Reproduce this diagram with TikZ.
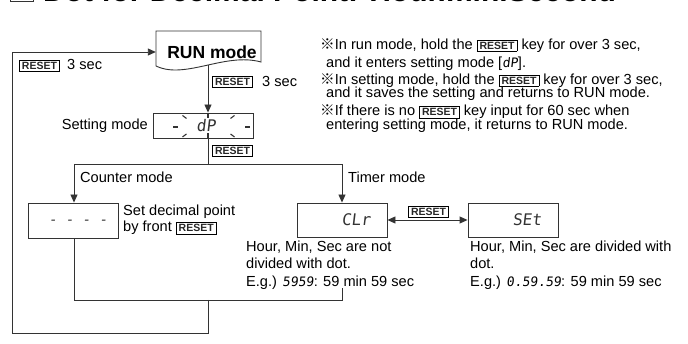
\documentclass[tikz,border=0pt]{standalone}
\usepackage{fontspec}
\setmainfont{Liberation Sans}
\newfontfamily\cjk{Noto Sans CJK JP}
\newfontfamily\seg{DejaVu Sans Mono}[FakeSlant=0.12]
\usetikzlibrary{arrows.meta}
\newcommand\rkey{{\setlength{\fboxsep}{1.6pt}\setlength{\fboxrule}{0.6pt}\fbox{\hspace{0.6pt}\fontsize{10.5}{11}\selectfont\bfseries\color{black!85}RESET\hspace{0.6pt}}}}
\newcommand\refmark{{\cjk ※}}
\newcommand\sg[1]{{\seg\fontsize{13}{14}\selectfont #1}}
\tikzset{
  ln/.style={draw=black!80, line width=0.9pt},
  arr/.style={ln, -{Triangle[length=8pt,width=7pt]}},
  dbl/.style={ln, {Triangle[length=8pt,width=7pt]}-{Triangle[length=8pt,width=7pt]}},
  box/.style={draw=black!80, line width=0.9pt, minimum width=90pt, minimum height=34pt, inner sep=0pt},
  txt/.style={font=\fontsize{14.6}{16}\selectfont, inner sep=0pt, anchor=base west},
  disp/.style={font=\seg\fontsize{16}{16}\selectfont, text=black!80, inner sep=0pt},
  keyn/.style={inner sep=0pt},
  blink/.style={draw=black!80, line width=1.1pt},
}
\begin{document}
\begin{tikzpicture}[x=1pt,y=-1pt]
\useasboundingbox (0,0) rectangle (688,344);
% title (mostly cut off at the top)
\node[draw=black!80, line width=0.9pt, minimum width=23pt, minimum height=23pt, inner sep=0pt, anchor=south west] (tbox) at (10,2) {};
\node[font=\bfseries\fontsize{30}{32}\selectfont, inner sep=0pt, anchor=base west] (title) at (43,2) {Dot for Decimal Point: Hour.min.Second};
% RUN mode
\node[minimum width=105pt, minimum height=36pt, inner sep=0pt] (run) at (208.5,49) {};
\draw[ln] (156,31) -- (261,31) -- (261,62) .. controls (225,52) and (185,80) .. (156,66) -- cycle;
\node[font=\bfseries\fontsize{17.5}{18}\selectfont, inner sep=0pt, anchor=base] (runt) at (212,58.3) {RUN mode};
\coordinate (rb) at (208,65.5);
% setting box
\node[box, minimum width=100pt, minimum height=25pt] (set) at (203,125.5) {};
\node[txt, anchor=base east] (setl) at (148,130) {Setting mode};
\node[disp, anchor=base] (dp) at (206,131.5) {dP};
\draw[blink] (173,127) -- (178,127);
\draw[blink] (245,127) -- (250,127);
\draw[blink] (208,113) -- (208,118.5);
\draw[blink] (208,133.5) -- (208,138);
\draw[blink] (182.5,115.5) -- (186.5,118.5);
\draw[blink] (230.5,118.5) -- (234.5,115.5);
\draw[blink] (182.5,137) -- (186.5,134);
\draw[blink] (230.5,134) -- (234.5,137);
% keys near RUN
\node[keyn] (k0) at (39.5,66) {\rkey};
\node[txt] (s0) at (67,69.3) {3 sec};
\node[keyn] (k1) at (232.5,82) {\rkey};
\node[txt] (s1) at (262,86.7) {3 sec};
\node[keyn] (k2) at (232.5,150.5) {\rkey};
% notes
\node[txt] (n1) at (320,49.5) {\refmark In run mode, hold the \rkey\ key for over 3 sec,};
\node[txt] (n2) at (326,67.7) {and it enters setting mode [\sg{dP}].};
\node[txt] (n3) at (320,84.5) {\refmark In setting mode, hold the \rkey\ key for over 3 sec,};
\node[txt] (n4) at (326,97.7) {and it saves the setting and returns to RUN mode.};
\node[txt] (n5) at (320,116) {\refmark If there is no \rkey\ key input for 60 sec when};
\node[txt] (n6) at (326,129.3) {entering setting mode, it returns to RUN mode.};
% branches
\coordinate (j0) at (208,164);
\coordinate (j1) at (74,164);
\coordinate (j2) at (342,164);
\node[txt] (cm) at (80,183) {Counter mode};
\node[txt] (tm) at (348,183) {Timer mode};
% counter box
\node[box, minimum width=90pt, minimum height=35pt] (cnt) at (73,220.5) {};
\node[disp, font=\seg\fontsize{14}{14}\selectfont, anchor=base] (dash) at (78,225) {- - - -};
\node[txt] (sd1) at (123,216) {Set decimal point};
\node[txt] (sd2) at (123,232) {by front \rkey};
% timer boxes
\node[box] (clr) at (342,220) {};
\node[disp, anchor=base] (clrt) at (356,226) {CLr};
\node[box] (sete) at (513,220) {};
\node[disp, anchor=base] (sett) at (527,226) {SEt};
\node[keyn] (k3) at (428.5,211.5) {\rkey};
\node[txt] (c1) at (246,251.5) {Hour, Min, Sec are not};
\node[txt] (c2) at (246,269) {divided with dot.};
\node[txt] (c3) at (246,287) {E.g.) \sg{5959}: 59 min 59 sec};
\node[txt] (e1) at (470,251.5) {Hour, Min, Sec are divided with};
\node[txt] (e2) at (470,269) {dot.};
\node[txt] (e3) at (470,287) {E.g.) \sg{0.59.59}: 59 min 59 sec};
% merge and loop
\coordinate (m0) at (74,300);
\coordinate (m1) at (208,300);
\coordinate (m2) at (342,300);
\coordinate (m3) at (342,288);
\coordinate (l0) at (208,333);
\coordinate (l1) at (12,333);
\coordinate (l2) at (12,52);
% connectors
\draw[arr] (rb) -- (rb |- set.north);
\draw[ln] (set.south -| j0) -- (j0);
\draw[ln] (j1) -- (j2);
\draw[arr] (j1) -- (j1 |- cnt.north);
\draw[arr] (j2) -- (j2 |- clr.north);
\draw[dbl] (clr.east) -- (sete.west);
\draw[ln] (cnt.south -| m0) -- (m0) -- (m2) -- (m3);
\draw[arr] (m1) -- (l0) -- (l1) -- (l2) -- (l2 -| run.west);
\end{tikzpicture}
\end{document}
